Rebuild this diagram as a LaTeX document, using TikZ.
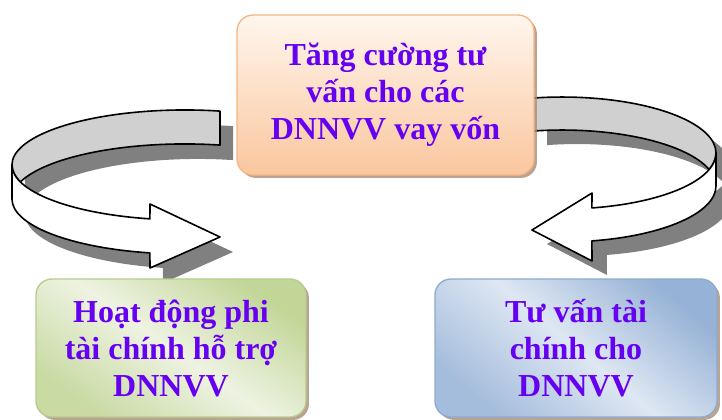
\documentclass[tikz,border=0pt]{standalone}
\usepackage{fontspec}
\setmainfont{Liberation Serif}
\usepackage{tikz}
\usetikzlibrary{shadows}

\definecolor{chuTim}{RGB}{102,0,240}
\definecolor{camNhat}{RGB}{255,246,238}
\definecolor{camDam}{RGB}{250,198,158}
\definecolor{vienCam}{RGB}{245,182,130}
\definecolor{xanhLaDam}{RGB}{194,214,152}
\definecolor{xanhLaNhat}{RGB}{238,243,226}
\definecolor{vienXanhLa}{RGB}{182,204,140}
\definecolor{xanhDuongDam}{RGB}{150,178,214}
\definecolor{xanhDuongNhat}{RGB}{222,231,243}
\definecolor{vienXanhDuong}{RGB}{140,170,210}
\definecolor{xamMatSau}{RGB}{208,208,208}
\definecolor{xamBong}{RGB}{128,128,128}
\definecolor{nauBong}{RGB}{170,140,120}

\tikzset{
  hop/.style={rounded corners=12pt, line width=1pt, align=center, text=chuTim,
    font=\fontsize{24}{27.75}\selectfont\bfseries,
    drop shadow={shadow xshift=2.2pt, shadow yshift=-2.2pt, fill=nauBong, opacity=.8}},
  matsau/.style={fill=xamMatSau, draw=black, line width=1.2pt, line join=round},
  mattruoc/.style={fill=white, draw=black, line width=1.2pt, line join=round},
  bong/.style={fill=xamBong},
  vongtrai/.style={x radius=173, y radius=55},
  vongphai/.style={x radius=154, y radius=56}
}

% hai dai cong: mat trong (xam) va mat ngoai co mui ten
\newcommand{\trongtrai}{(220,111.1) arc[vongtrai, start angle=281.7, end angle=180]
  arc[vongtrai, start angle=180, end angle=162]
  arc[vongtrai, start angle=198, end angle=281.7] -- cycle}
\newcommand{\ngoaitrai}{(12,165) arc[vongtrai, start angle=180, end angle=101.7]
  -- (150,204) -- (220,237) -- (150,268) -- (149.9,252.9)
  arc[vongtrai, start angle=101.7, end angle=180] -- cycle}
\newcommand{\trongphai}{(532.1,98.1) arc[vongphai, start angle=258.8, end angle=360]
  arc[vongphai, start angle=0, end angle=17.14]
  arc[vongphai, start angle=342.86, end angle=258.8] -- cycle}
\newcommand{\ngoaiphai}{(716,153) arc[vongphai, start angle=0, end angle=78.8]
  -- (592,193) -- (532,230) -- (592,261) -- (591.9,240.9)
  arc[vongphai, start angle=78.8, end angle=0] -- cycle}

\begin{document}
\begin{tikzpicture}[x=0.75pt, y=-0.75pt]
    \useasboundingbox (0,0) rectangle (722,419);
    % bong cua hai dai
    \begin{scope}[shift={(13,15)}]
        \fill[bong] \trongtrai;
        \fill[bong] \ngoaitrai;
    \end{scope}
    \begin{scope}[shift={(15,14)}]
        \fill[bong] \trongphai;
        \fill[bong] \ngoaiphai;
    \end{scope}
    \filldraw[matsau] \trongtrai;
    \filldraw[mattruoc] \ngoaitrai;
    \filldraw[matsau] \trongphai;
    \filldraw[mattruoc] \ngoaiphai;

    % ba khung noi dung
    \node[hop, draw=vienCam, top color=camNhat, bottom color=camDam,
        minimum width=222.75pt, minimum height=120pt] (tuvan) at (385.5,95)
        {Tăng cường tư\\vấn cho các\\DNNVV vay vốn};
    \node[hop, draw=vienXanhLa, top color=xanhLaDam, bottom color=xanhLaDam!85!xanhLaNhat,
        middle color=xanhLaNhat, shading angle=-35,
        minimum width=202.5pt, minimum height=103.5pt] (phitaichinh) at (171,348)
        {Hoạt động phi\\tài chính hỗ trợ\\DNNVV};
    \node[hop, draw=vienXanhDuong, top color=xanhDuongDam, bottom color=xanhDuongDam!80!xanhDuongNhat,
        middle color=xanhDuongNhat, shading angle=-40,
        minimum width=211.5pt, minimum height=103.5pt] (taichinh) at (576,348)
        {Tư vấn tài\\chính cho\\DNNVV};
\end{tikzpicture}
\end{document}
